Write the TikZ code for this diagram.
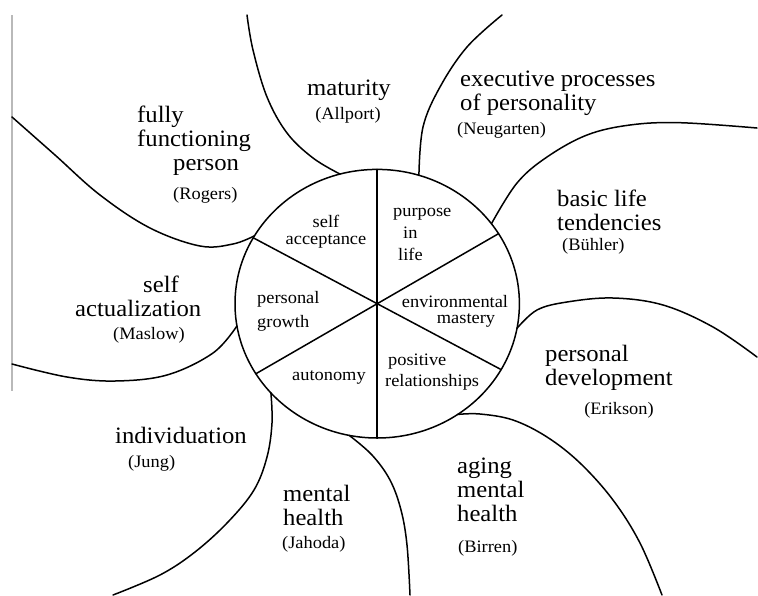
\documentclass[tikz,border=0pt]{standalone}
\usepackage{fontspec}
\setmainfont{Liberation Serif}[FakeStretch=1.05]
\usetikzlibrary{shapes.geometric}
\begin{document}
\begin{tikzpicture}[x=1pt,y=-1pt,
  curve/.style={line width=1.5pt, line join=round, line cap=round},
  big/.style={font=\fontsize{23.5}{24}\selectfont, inner sep=0pt},
  small/.style={font=\fontsize{17.5}{17}\selectfont, inner sep=0pt},
  ]
\useasboundingbox (0,0) rectangle (758,595);
% scan border
\draw[gray!55, line width=1.3pt] (12,15) -- (12,391);
% central circle
\node[draw, ellipse, minimum width=284.4pt, minimum height=268.6pt, inner sep=0pt, outer sep=0pt, line width=1.5pt] (C) at (377.2,303.7) {};
\draw[curve] (C.90) -- (C.270);
\draw[curve] (C.30) -- (C.210);
\draw[curve] (C.152) -- (C.332);
% outer petals
\draw[curve] plot[smooth, tension=0.6] coordinates {(12,117) (55,155) (100,195) (150,228) (200,246) (233,244) (C.151)};
\draw[curve] plot[smooth, tension=0.6] coordinates {(247,15) (253,50) (267,97) (287,133) (313,158) (C.106)};
\draw[curve] plot[smooth, tension=0.6] coordinates {(502,15) (467,47) (440,87) (423,127) (C.72)};
\draw[curve] plot[smooth, tension=0.6] coordinates {(757,128) (680,122.7) (630,125) (587,135) (547,157) (517,183) (C.35)};
\draw[curve] plot[smooth, tension=0.6] coordinates {(C.350) (537,310) (567,302) (613,298) (663,305) (713,327) (757,357)};
\draw[curve] plot[smooth, tension=0.6] coordinates {(C.306) (480,414) (513,420) (547,437) (580,463) (613,500) (640,543) (662,595)};
\draw[curve] plot[smooth, tension=0.6] coordinates {(C.258) (372,455) (390,480) (401,510) (407,545) (410,595)};
\draw[curve] plot[smooth, tension=0.6] coordinates {(C.220) (272,423) (267,457) (254,490) (228,522) (195,552) (160,575) (113,595)};
\draw[curve] plot[smooth, tension=0.6] coordinates {(12,364) (67,377) (115,381) (167,375) (213,353) (C.189)};
% outer labels (base anchor = baseline of the last line)
\node[big, anchor=base] (mat) at (349,95) {maturity};
\node[small, anchor=base] (allport) at (348,119) {(Allport)};
\node[big, anchor=base west, align=left] (exec) at (460,110) {executive processes\\of personality};
\node[small, anchor=base west] (neug) at (457,134) {(Neugarten)};
\node[big, anchor=base west, align=left] (basic) at (557,230) {basic life\\tendencies};
\node[small, anchor=base west] (buhler) at (562,250) {(Bühler)};
\node[big, anchor=base west, align=left] (pdev) at (545,385) {personal\\development};
\node[small, anchor=base] (erik) at (619,414) {(Erikson)};
\node[big, anchor=base west, align=left] (aging) at (457,521) {aging\\mental\\health};
\node[small, anchor=base west] (birren) at (458,552) {(Birren)};
\node[big, anchor=base west, align=left] (mh) at (283,525) {mental\\health};
\node[small, anchor=base west] (jahoda) at (282,548) {(Jahoda)};
\node[big, anchor=base west] (indiv) at (115,443) {individuation};
\node[small, anchor=base west] (jung) at (128,467) {(Jung)};
\node[big, anchor=base west, align=left] (selfact) at (75,316) {\hspace*{68pt}self\\actualization};
\node[small, anchor=base west] (maslow) at (113,339) {(Maslow)};
\node[big, anchor=base west, align=left] (fully) at (137,170) {fully\\functioning\\\hspace*{36pt}person};
\node[small, anchor=base west] (rogers) at (173,199) {(Rogers)};
% circle labels
\node[small, anchor=base, align=center] (sacc) at (326,244) {self\\acceptance};
\node[small, anchor=base west, align=left, font=\fontsize{17.5}{22}\selectfont] (purp) at (393,260) {purpose\\\hspace*{10pt}in\\\hspace*{5pt}life};
\node[small, anchor=base, align=center, font=\fontsize{17.5}{16}\selectfont] (env) at (455,323) {environmental\\\hspace*{22pt}mastery};
\node[small, anchor=base west, align=left, font=\fontsize{17.5}{24}\selectfont] (pgrow) at (257,327) {personal\\growth};
\node[small, anchor=base west] (auto) at (292,380) {autonomy};
\node[small, anchor=base west, align=left, font=\fontsize{17.5}{21}\selectfont] (posrel) at (385,386) {\hspace*{3pt}positive\\relationships};
\end{tikzpicture}
\end{document}
